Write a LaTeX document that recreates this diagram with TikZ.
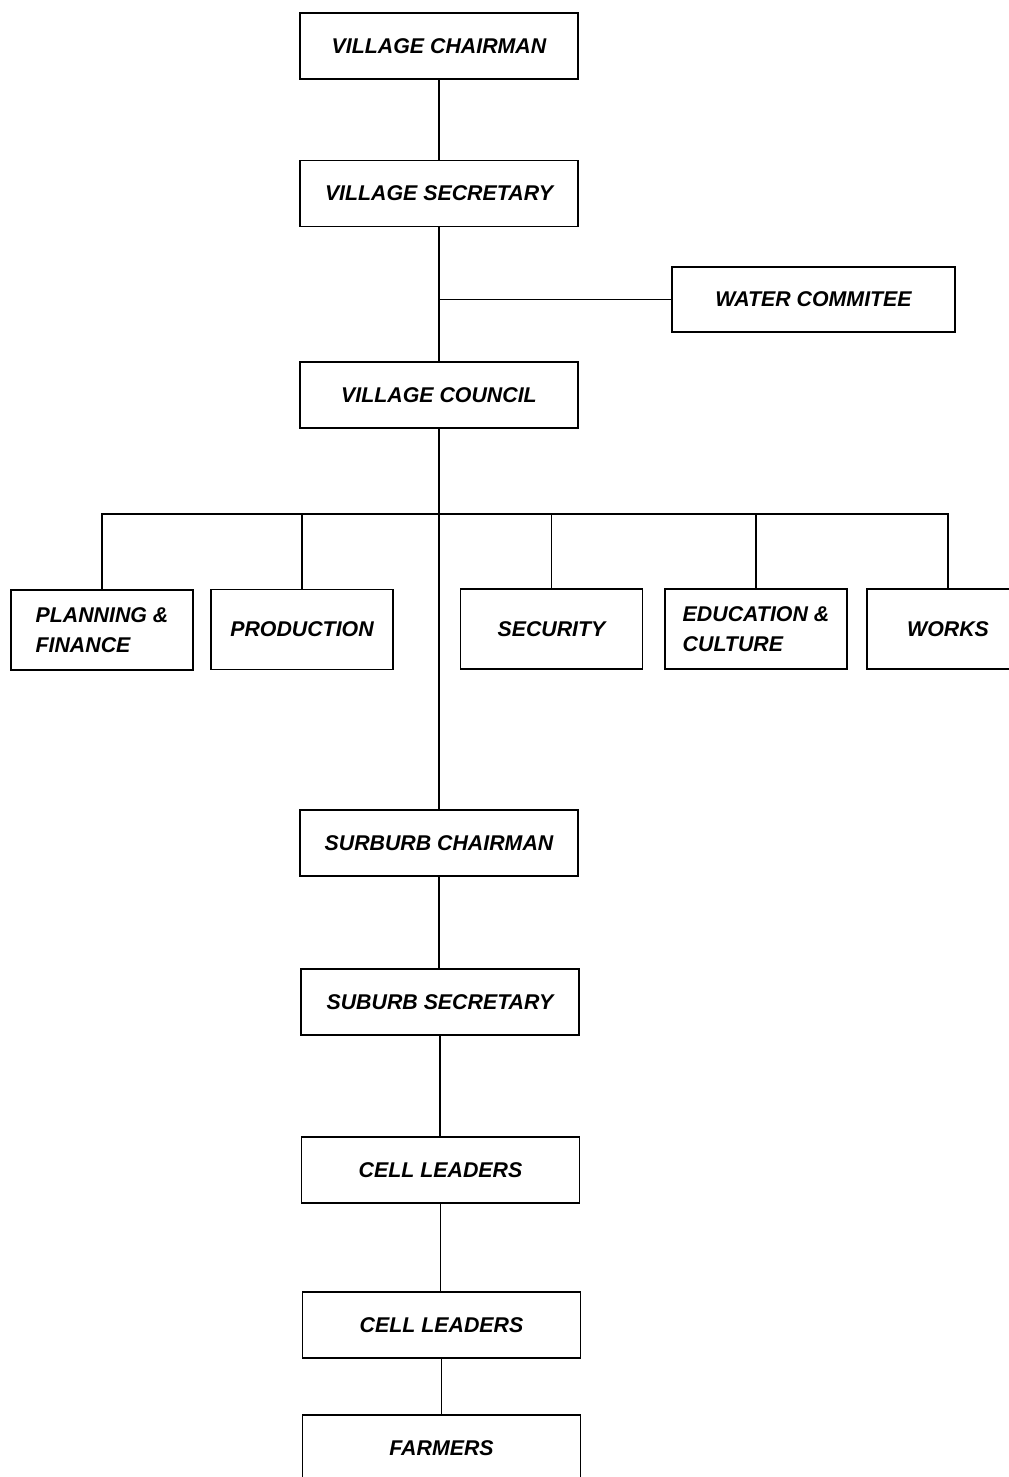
\documentclass[tikz,border=0pt]{standalone}
\usepackage{fontspec}
\setmainfont{Liberation Sans}
\begin{document}
\begin{tikzpicture}[x=0.75pt,y=-0.75pt,
  unit/.style={draw,line width=1.4pt,inner sep=2pt,
    font=\bfseries\itshape\fontsize{16}{22}\selectfont},
  wide/.style={unit,minimum width=208.5pt,minimum height=49.5pt},
  dept/.style={unit,minimum width=136.5pt,minimum height=60pt,align=left},
  link/.style={line width=1.3pt}]
\useasboundingbox (0,0) rectangle (1009,1477);
\clip (0,0) rectangle (1009,1477);
% village level
\node[wide] (chair) at (439,46) {VILLAGE CHAIRMAN};
\node[wide] (secr) at (439,193.5) {VILLAGE SECRETARY};
\node[wide,minimum width=212pt,minimum height=48.75pt] (water) at (813.5,299.5) {WATER COMMITEE};
\node[wide] (council) at (439,395) {VILLAGE COUNCIL};
% departments
\node[dept] (plan) at (102,630) {PLANNING \&\\FINANCE};
\node[dept] (prod) at (302,629.5) {PRODUCTION};
\node[dept] (secu) at (551.5,629) {SECURITY};
\node[dept] (edu) at (756,629) {EDUCATION \&\\CULTURE};
\node[dept,minimum width=121.5pt] (works) at (948,629) {WORKS};
% suburb level
\node[wide] (schair) at (439,843) {SURBURB CHAIRMAN};
\node[wide] (ssecr) at (440,1002) {SUBURB SECRETARY};
\node[wide] (cellA) at (440.5,1170) {CELL LEADERS};
\node[wide] (cellB) at (441.5,1325) {CELL LEADERS};
\node[wide] (farm) at (441.5,1448) {FARMERS};
\coordinate (bar) at (440,514);
\draw[link] (chair) -- (secr);
\draw[link] (secr) -- (secr |- council.north);
\draw[link] (secr |- water) -- (water.west);
\draw[link] (council) -- (council |- schair.north);
\draw[link] (plan.north) |- (bar) -| (works.north);
\foreach \d in {prod,secu,edu}
  \draw[link] (\d.north) -- (\d.north |- bar);
\draw[link] (schair) -- (schair.south |- ssecr.north);
\draw[link] (ssecr) -- (ssecr.south |- cellA.north);
\draw[link] (cellA) -- (cellA.south |- cellB.north);
\draw[link] (cellB) -- (cellB.south |- farm.north);
\end{tikzpicture}
\end{document}
